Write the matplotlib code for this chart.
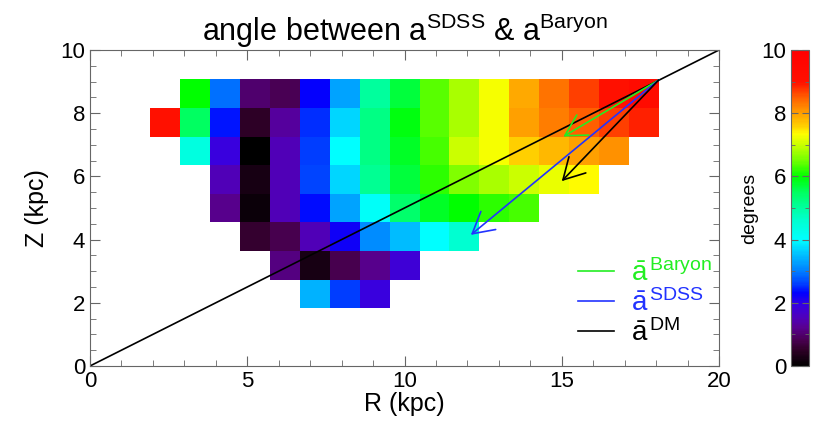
import numpy as np
import matplotlib
matplotlib.use('Agg')
import matplotlib.pyplot as plt
from matplotlib.colors import LinearSegmentedColormap
from matplotlib.ticker import MultipleLocator

plt.rcParams['font.family'] = ['Liberation Sans', 'DejaVu Sans']
plt.rcParams['mathtext.fontset'] = 'custom'
plt.rcParams['mathtext.rm'] = 'Liberation Sans'
plt.rcParams['mathtext.it'] = 'Liberation Sans'

nan = np.nan

# cell grid (degrees), rows from top (Z high) to bottom, 17 columns in R
angle_rows = [
    [nan, 6.0, 2.9, 1.0, 0.85, 2.3, 3.3, 5.0, 5.7, 6.4, 6.8, 7.3, 7.9, 8.35, 8.7, 9.0, 9.3],
    [9.0, 5.5, 2.4, 0.5, 1.3, 2.5, 3.7, 5.2, 5.9, 6.4, 6.8, 7.3, 8.0, 8.25, 8.5, 8.7, 8.9],
    [nan, 4.4, 1.9, 0.0, 1.5, 2.6, 4.0, 5.2, 5.8, 6.3, 7.0, 7.3, 7.6, 7.8, 8.0, 8.1, nan],
    [nan, nan, 1.5, 0.25, 1.5, 2.65, 3.7, 5.1, 5.7, 6.2, 6.6, 6.8, 7.0, 7.2, 7.35, nan, nan],
    [nan, nan, 1.2, 0.15, 1.5, 2.35, 3.3, 4.1, 5.4, 5.8, 6.0, 6.2, 6.3, nan, nan, nan, nan],
    [nan, nan, nan, 0.55, 0.8, 1.5, 2.2, 3.1, 3.5, 4.0, 4.6, nan, nan, nan, nan, nan, nan],
    [nan, nan, nan, nan, 1.1, 0.25, 0.8, 1.2, 1.8, nan, nan, nan, nan, nan, nan, nan, nan],
    [nan, nan, nan, nan, nan, 3.4, 2.6, 1.9, nan, nan, nan, nan, nan, nan, nan, nan, nan],
]
R_edges = 1.9 + 0.953 * np.arange(18)
Z_edges = 9.07 - 0.905 * np.arange(9)

# acceleration directions: common origin and arrow tips (R, Z)
arrow_start = (18.08, 9.05)
tip_baryon = (15.05, 7.26)
tip_sdss = (12.11, 4.15)
tip_dm = (15.0, 5.85)

cmap = LinearSegmentedColormap.from_list('idl_rainbow', [
    (0.00, '#000000'), (0.05, '#300028'), (0.08, '#480050'), (0.12, '#580090'),
    (0.15, '#5000b8'), (0.19, '#3800e0'), (0.23, '#0000ff'), (0.26, '#0040ff'),
    (0.30, '#0080ff'), (0.34, '#00b0ff'), (0.40, '#00ffff'), (0.46, '#00ffd0'),
    (0.50, '#00ffa0'), (0.55, '#00ff60'), (0.60, '#00ff00'), (0.65, '#70ff00'),
    (0.70, '#c8ff00'), (0.735, '#ffff00'), (0.76, '#ffd000'), (0.80, '#ffa000'),
    (0.85, '#ff6000'), (0.90, '#ff1000'), (1.00, '#ff0000')])

data = np.ma.masked_invalid(np.array(angle_rows))

fig = plt.figure(figsize=(8.3, 4.34), dpi=100)
ax = fig.add_axes([0.1084, 0.1567, 0.7579, 0.7281])
cax = fig.add_axes([0.953, 0.1567, 0.0217, 0.7281])

mesh = ax.pcolormesh(R_edges, Z_edges, data, cmap=cmap, vmin=0, vmax=10)
ax.plot([0, 20], [0, 10], c='black', lw=1.2)

head = '->,head_length=0.75,head_width=0.42'
for tip, col, lab in [(tip_baryon, '#22ee22', r'$\bar{\rm a}^{\,\rm Baryon}$'),
                      (tip_sdss, '#2233ff', r'$\bar{\rm a}^{\,\rm SDSS}$'),
                      (tip_dm, 'black', r'$\bar{\rm a}^{\,\rm DM}$')]:
    ax.annotate('', xy=tip, xytext=arrow_start,
                arrowprops=dict(arrowstyle=head, color=col, lw=1.2,
                                shrinkA=0, shrinkB=0, mutation_scale=20))
    ax.plot([], [], c=col, lw=1.2, label=lab)

ax.legend(loc='lower left', bbox_to_anchor=(0.745, 0.0), frameon=False,
          fontsize=20, labelcolor='linecolor', handlelength=1.3,
          labelspacing=0.08, handletextpad=0.6, borderpad=0.2)

ax.set_xlim(0, 20)
ax.set_ylim(0, 10)
ax.xaxis.set_major_locator(MultipleLocator(5))
ax.xaxis.set_minor_locator(MultipleLocator(1))
ax.yaxis.set_major_locator(MultipleLocator(2))
ax.yaxis.set_minor_locator(MultipleLocator(0.5))
ax.tick_params(which='both', direction='in', top=True, right=True,
               color='0.4', labelsize=16)
ax.tick_params(which='major', length=7)
ax.tick_params(which='minor', length=4)
for s in ax.spines.values():
    s.set_color('0.4')
ax.set_xlabel('R (kpc)', fontsize=18, labelpad=0)
ax.set_ylabel('Z (kpc)', fontsize=18, labelpad=8)
ax.set_title(r'angle between a$^{\rm SDSS}$ & a$^{\rm Baryon}$', fontsize=22, pad=6)

cb = fig.colorbar(mesh, cax=cax)
cb.set_ticks([0, 2, 4, 6, 8, 10])
cax.yaxis.set_minor_locator(MultipleLocator(1))
cax.yaxis.set_ticks_position('both')
cax.yaxis.set_label_position('left')
cax.tick_params(which='both', direction='in', labelleft=True, labelright=False,
                color='0.4', labelsize=16)
cax.tick_params(which='major', length=5)
cax.tick_params(which='minor', length=3)
cb.outline.set_edgecolor('0.4')
cb.set_label('degrees', fontsize=14, labelpad=2)

plt.savefig('out.png', dpi=100)
